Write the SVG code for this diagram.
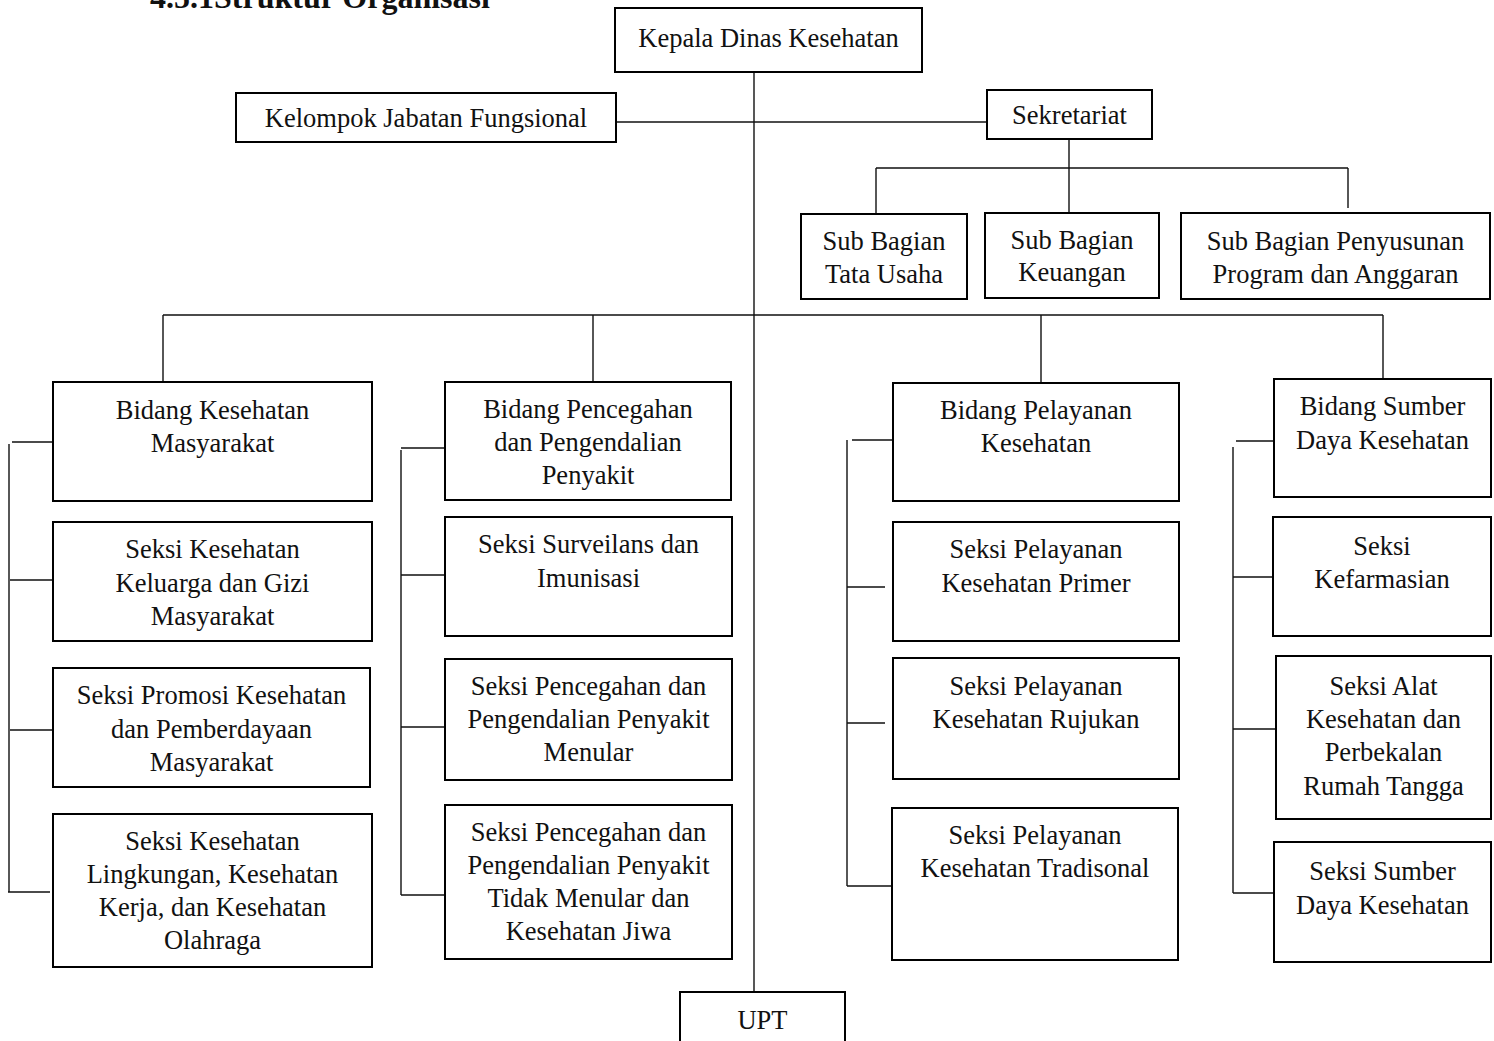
<svg xmlns="http://www.w3.org/2000/svg" width="1494" height="1041" viewBox="0 0 1494 1041">
<style>
.b{fill:#fff;stroke:#000;stroke-width:2}
.t{font-family:"Liberation Serif","Times New Roman",serif;font-size:26.5px;fill:#111;text-anchor:middle}
.h{font-family:"Liberation Serif","Times New Roman",serif;font-size:32px;font-weight:bold;fill:#111}
.c{stroke:#111;stroke-width:1.4;fill:none}
</style>
<rect width="1494" height="1041" fill="#fff"/>
<text class="h" x="150" y="8">4.5.1Struktur Organisasi</text>
<g id="connectors">
<path class="c" d="M754,72V992"/>
<path class="c" d="M616,122H987"/>
<path class="c" d="M1069,139V213M876,168H1348M876,168V214M1348,168V208"/>
<path class="c" d="M163,315H1383M163,315V382M593,315V382M1041,315V383M1383,315V379"/>
<path class="c" d="M12,442H53M9,444V892M10,580H52M10,730H52M8,892H50"/>
<path class="c" d="M401,448H445M401,450V895M401,575H445M401,727H445M401,895H445"/>
<path class="c" d="M852,440H893M847,440V886M847,587H885M847,723H885M847,886H893"/>
<path class="c" d="M1236,441H1274M1233,447V893M1233,577H1273M1233,729H1276M1233,893H1274"/>
</g>
<g id="kepala"><rect class="b" x="615" y="8" width="307" height="64"/><text class="t" x="768.5" y="47">Kepala Dinas Kesehatan</text></g>
<g id="kelompok"><rect class="b" x="236" y="93" width="380" height="49"/><text class="t" x="426" y="127">Kelompok Jabatan Fungsional</text></g>
<g id="sekretariat"><rect class="b" x="987" y="90" width="165" height="49"/><text class="t" x="1069.5" y="124">Sekretariat</text></g>
<g id="sb-tu"><rect class="b" x="801" y="214" width="166" height="85"/><text class="t" x="884" y="250">Sub Bagian<tspan x="884" y="283">Tata Usaha</tspan></text></g>
<g id="sb-keu"><rect class="b" x="985" y="213" width="174" height="85"/><text class="t" x="1072" y="249">Sub Bagian<tspan x="1072" y="281">Keuangan</tspan></text></g>
<g id="sb-ppa"><rect class="b" x="1181" y="213" width="309" height="86"/><text class="t" x="1335.5" y="250">Sub Bagian Penyusunan<tspan x="1335.5" y="283">Program dan Anggaran</tspan></text></g>
<g id="bid-kesmas"><rect class="b" x="53" y="382" width="319" height="119"/><text class="t" x="212.5" y="419">Bidang Kesehatan<tspan x="212.5" y="452">Masyarakat</tspan></text></g>
<g id="seksi-kkg"><rect class="b" x="53" y="522" width="319" height="119"/><text class="t" x="212.5" y="558">Seksi Kesehatan<tspan x="212.5" y="592">Keluarga dan Gizi</tspan><tspan x="212.5" y="625">Masyarakat</tspan></text></g>
<g id="seksi-promkes"><rect class="b" x="53" y="668" width="317" height="119"/><text class="t" x="211.5" y="704">Seksi Promosi Kesehatan<tspan x="211.5" y="738">dan Pemberdayaan</tspan><tspan x="211.5" y="771">Masyarakat</tspan></text></g>
<g id="seksi-kesling"><rect class="b" x="53" y="814" width="319" height="153"/><text class="t" x="212.5" y="850">Seksi Kesehatan<tspan x="212.5" y="883">Lingkungan, Kesehatan</tspan><tspan x="212.5" y="916">Kerja, dan Kesehatan</tspan><tspan x="212.5" y="949">Olahraga</tspan></text></g>
<g id="bid-p2p"><rect class="b" x="445" y="382" width="286" height="118"/><text class="t" x="588" y="418">Bidang Pencegahan<tspan x="588" y="451">dan Pengendalian</tspan><tspan x="588" y="484">Penyakit</tspan></text></g>
<g id="seksi-surv"><rect class="b" x="445" y="517" width="287" height="119"/><text class="t" x="588.5" y="553">Seksi Surveilans dan<tspan x="588.5" y="587">Imunisasi</tspan></text></g>
<g id="seksi-p2pm"><rect class="b" x="445" y="659" width="287" height="121"/><text class="t" x="588.5" y="695">Seksi Pencegahan dan<tspan x="588.5" y="728">Pengendalian Penyakit</tspan><tspan x="588.5" y="761">Menular</tspan></text></g>
<g id="seksi-p2ptm"><rect class="b" x="445" y="805" width="287" height="154"/><text class="t" x="588.5" y="841">Seksi Pencegahan dan<tspan x="588.5" y="874">Pengendalian Penyakit</tspan><tspan x="588.5" y="907">Tidak Menular dan</tspan><tspan x="588.5" y="940">Kesehatan Jiwa</tspan></text></g>
<g id="bid-yankes"><rect class="b" x="893" y="383" width="286" height="118"/><text class="t" x="1036" y="419">Bidang Pelayanan<tspan x="1036" y="452">Kesehatan</tspan></text></g>
<g id="seksi-primer"><rect class="b" x="893" y="522" width="286" height="119"/><text class="t" x="1036" y="558">Seksi Pelayanan<tspan x="1036" y="592">Kesehatan Primer</tspan></text></g>
<g id="seksi-rujukan"><rect class="b" x="893" y="658" width="286" height="121"/><text class="t" x="1036" y="695">Seksi Pelayanan<tspan x="1036" y="728">Kesehatan Rujukan</tspan></text></g>
<g id="seksi-tradisional"><rect class="b" x="892" y="808" width="286" height="152"/><text class="t" x="1035" y="844">Seksi Pelayanan<tspan x="1035" y="877">Kesehatan Tradisonal</tspan></text></g>
<g id="bid-sdk"><rect class="b" x="1274" y="379" width="217" height="118"/><text class="t" x="1382.5" y="415">Bidang Sumber<tspan x="1382.5" y="449">Daya Kesehatan</tspan></text></g>
<g id="seksi-farmasi"><rect class="b" x="1273" y="517" width="218" height="119"/><text class="t" x="1382" y="555">Seksi<tspan x="1382" y="588">Kefarmasian</tspan></text></g>
<g id="seksi-alkes"><rect class="b" x="1276" y="656" width="215" height="163"/><text class="t" x="1383.5" y="695">Seksi Alat<tspan x="1383.5" y="728">Kesehatan dan</tspan><tspan x="1383.5" y="761">Perbekalan</tspan><tspan x="1383.5" y="795">Rumah Tangga</tspan></text></g>
<g id="seksi-sdk"><rect class="b" x="1274" y="842" width="217" height="120"/><text class="t" x="1382.5" y="880">Seksi Sumber<tspan x="1382.5" y="914">Daya Kesehatan</tspan></text></g>
<g id="upt"><rect class="b" x="680" y="992" width="165" height="60"/><text class="t" x="762.5" y="1029">UPT</text></g>
</svg>
